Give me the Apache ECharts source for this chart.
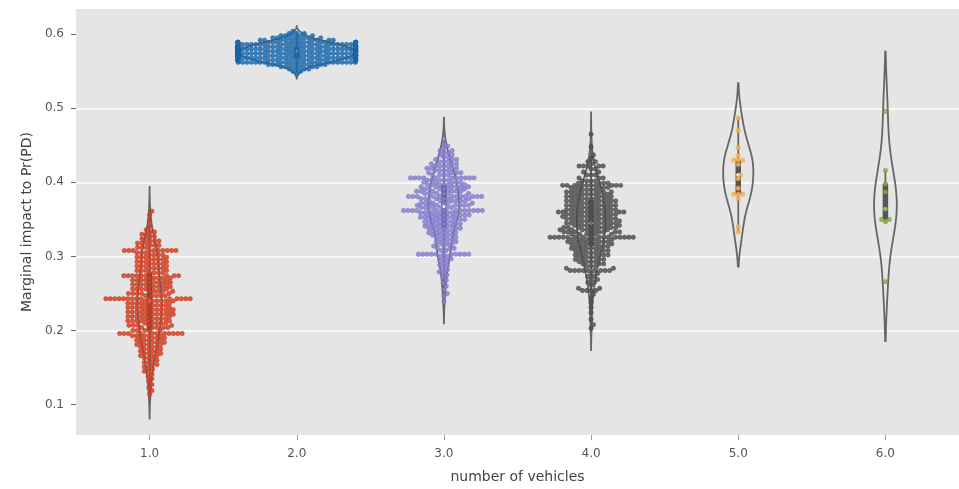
<!DOCTYPE html>
<html>
<head>
<meta charset="utf-8">
<script src="https://cdn.jsdelivr.net/npm/echarts@6/dist/echarts.min.js"></script>
<style>
  html, body { margin: 0; padding: 0; background: #fff; }
  #chart { width: 959px; height: 489px; }
</style>
</head>
<body>
<div id="chart"></div>
<script>
// categories
const vehicles = ['1.0', '2.0', '3.0', '4.0', '5.0', '6.0'];
const yTicks = [0.1, 0.2, 0.3, 0.4, 0.5, 0.6];

// swarm values: [value, number of points at that value]
const veh1 = [
  [0.361, 1], [0.356, 1], [0.348, 1], [0.340, 1], [0.336, 1], [0.333, 2], [0.330, 2], [0.327, 2],
  [0.324, 2], [0.321, 3], [0.318, 3], [0.315, 3], [0.312, 3], [0.308, 10], [0.305, 3], [0.302, 4],
  [0.299, 4], [0.296, 4], [0.293, 4], [0.290, 4], [0.287, 4], [0.284, 4], [0.281, 4], [0.278, 4],
  [0.274, 9], [0.271, 5], [0.268, 5], [0.265, 5], [0.262, 5], [0.259, 5], [0.256, 5], [0.253, 5],
  [0.250, 5], [0.247, 5], [0.243, 15], [0.240, 6], [0.237, 6], [0.234, 5], [0.231, 6], [0.228, 6],
  [0.225, 6], [0.222, 6], [0.219, 6], [0.216, 5], [0.213, 6], [0.210, 5], [0.207, 5], [0.204, 5],
  [0.200, 5], [0.196, 11], [0.193, 5], [0.190, 4], [0.187, 4], [0.184, 4], [0.181, 4], [0.178, 3],
  [0.175, 3], [0.172, 3], [0.169, 3], [0.166, 3], [0.163, 2], [0.160, 2], [0.157, 2], [0.154, 2],
  [0.151, 2], [0.148, 1], [0.145, 2], [0.141, 1], [0.138, 1], [0.135, 1], [0.131, 1], [0.127, 1],
  [0.123, 1], [0.119, 1], [0.114, 1]
];
const veh2 = [
  [0.604, 1], [0.601, 3], [0.598, 5], [0.595, 7], [0.592, 10], [0.589, 20], [0.586, 22], [0.583, 26],
  [0.580, 30], [0.577, 32], [0.574, 32], [0.571, 30], [0.568, 26], [0.565, 22], [0.562, 20],
  [0.559, 9], [0.556, 6], [0.553, 4], [0.550, 2], [0.547, 1]
];
const veh3 = [
  [0.458, 1], [0.452, 1], [0.449, 1], [0.446, 1], [0.443, 2], [0.440, 2], [0.437, 2], [0.434, 2],
  [0.431, 3], [0.428, 3], [0.425, 3], [0.422, 4], [0.419, 4], [0.416, 4], [0.413, 4], [0.410, 4],
  [0.406, 11], [0.403, 5], [0.400, 5], [0.397, 6], [0.394, 6], [0.391, 6], [0.388, 6], [0.385, 6],
  [0.381, 12], [0.378, 6], [0.375, 6], [0.372, 6], [0.369, 7], [0.366, 6], [0.362, 14], [0.359, 6],
  [0.356, 7], [0.353, 6], [0.350, 6], [0.347, 5], [0.344, 5], [0.341, 5], [0.338, 5], [0.335, 4],
  [0.332, 4], [0.329, 4], [0.326, 3], [0.323, 3], [0.320, 3], [0.317, 3], [0.314, 2], [0.311, 3],
  [0.308, 2], [0.303, 11], [0.300, 2], [0.297, 2], [0.294, 2], [0.291, 1], [0.288, 2], [0.285, 1],
  [0.282, 1], [0.279, 2], [0.275, 1], [0.272, 1], [0.268, 1], [0.264, 1], [0.260, 1], [0.255, 1],
  [0.250, 1], [0.246, 1], [0.239, 1]
];
const veh4 = [
  [0.465, 1], [0.448, 1], [0.437, 1], [0.432, 1], [0.428, 2], [0.425, 1], [0.422, 5], [0.418, 2],
  [0.414, 2], [0.410, 3], [0.406, 3], [0.402, 4], [0.399, 4], [0.396, 10], [0.393, 5], [0.390, 5],
  [0.387, 6], [0.384, 6], [0.381, 6], [0.378, 6], [0.375, 7], [0.372, 6], [0.369, 7], [0.366, 6],
  [0.363, 7], [0.360, 10], [0.357, 7], [0.354, 7], [0.351, 7], [0.348, 7], [0.345, 7], [0.342, 7],
  [0.339, 7], [0.336, 7], [0.333, 7], [0.330, 6], [0.326, 15], [0.323, 6], [0.320, 6], [0.317, 6],
  [0.314, 5], [0.311, 5], [0.308, 5], [0.305, 4], [0.302, 5], [0.299, 4], [0.296, 4], [0.293, 4],
  [0.290, 3], [0.287, 3], [0.284, 2], [0.281, 9], [0.277, 2], [0.273, 2], [0.269, 2], [0.265, 2],
  [0.261, 1], [0.257, 2], [0.254, 4], [0.249, 1], [0.244, 1], [0.238, 1], [0.231, 1], [0.224, 1],
  [0.215, 1], [0.208, 1], [0.203, 1]
];
const veh5 = [
  [0.333, 1], [0.340, 1], [0.378, 1], [0.384, 3], [0.392, 1], [0.405, 1], [0.410, 1], [0.424, 1],
  [0.430, 3], [0.436, 1], [0.447, 1], [0.470, 1], [0.487, 1]
];
const veh6 = [
  [0.266, 1], [0.347, 1], [0.350, 2], [0.364, 1], [0.387, 1], [0.398, 1], [0.416, 1], [0.496, 1]
];

const pointColors = ['#dc4120', '#1d6fb6', '#8b82d6', '#545454', '#fbb450', '#82b03c'];
const edgeColors = ['#b4321a', '#145a96', '#6f66bb', '#3a3a3a', '#e79a35', '#67922b'];
const lineGray = '#666666';

function expand(rows) {
  const out = [];
  rows.forEach(([v, n]) => { for (let k = 0; k < n; k++) out.push(v); });
  return out.sort((a, b) => a - b);
}

function quantile(s, q) {
  const pos = (s.length - 1) * q;
  const lo = Math.floor(pos);
  const hi = Math.min(lo + 1, s.length - 1);
  return s[lo] + (s[hi] - s[lo]) * (pos - lo);
}

// violin stats like seaborn: gaussian kde, scott bandwidth, cut = 2
function violinStats(s) {
  const n = s.length;
  const mean = s.reduce((a, b) => a + b, 0) / n;
  const sd = Math.sqrt(s.reduce((a, b) => a + (b - mean) * (b - mean), 0) / (n - 1));
  const bw = sd * Math.pow(n, -0.2);
  const lo = s[0] - 2 * bw;
  const hi = s[n - 1] + 2 * bw;
  const grid = [], dens = [];
  const steps = 120;
  for (let k = 0; k <= steps; k++) {
    const y = lo + (hi - lo) * k / steps;
    let d = 0;
    s.forEach((x) => { const z = (y - x) / bw; d += Math.exp(-0.5 * z * z); });
    grid.push(y);
    dens.push(d / (n * bw * Math.sqrt(2 * Math.PI)));
  }
  const q1 = quantile(s, 0.25), q3 = quantile(s, 0.75);
  const iqr = q3 - q1;
  const w1 = s.find((x) => x >= q1 - 1.5 * iqr);
  const w2 = [...s].reverse().find((x) => x <= q3 + 1.5 * iqr);
  return { grid, dens, q1, q3, med: quantile(s, 0.5), w1, w2 };
}

const samples = [veh1, veh2, veh3, veh4, veh5, veh6].map(expand);
const stats = samples.map(violinStats);
const maxDens = Math.max(...stats.map((st) => Math.max(...st.dens)));

function violinItem(i) {
  return function (params, api) {
    const st = stats[i];
    const half = 0.4 * api.size([1, 0])[0];
    const right = [], left = [];
    st.grid.forEach((v, k) => {
      const p = api.coord([i, v]);
      const w = st.dens[k] / maxDens * half;
      right.push([p[0] + w, p[1]]);
      left.unshift([p[0] - w, p[1]]);
    });
    const c = api.coord([i, st.med]);
    const x = c[0];
    return {
      type: 'group',
      children: [
        { type: 'polygon', shape: { points: right.concat(left) },
          style: { fill: 'none', stroke: lineGray, lineWidth: 1.8 } },
        { type: 'line', shape: { x1: x, y1: api.coord([i, st.w1])[1], x2: x, y2: api.coord([i, st.w2])[1] },
          style: { stroke: lineGray, lineWidth: 1.8 } },
        { type: 'line', shape: { x1: x, y1: api.coord([i, st.q1])[1], x2: x, y2: api.coord([i, st.q3])[1] },
          style: { stroke: '#555', lineWidth: 5.5 } },
        { type: 'circle', shape: { cx: x, cy: c[1], r: 2 }, style: { fill: '#fff' } }
      ]
    };
  };
}

// beeswarm placement in pixel space, with gutters at the violin width
function swarmItem(i) {
  return function (params, api) {
    const d = 4.4;
    const gutter = 0.4 * api.size([1, 0])[0];
    const cx = api.coord([i, samples[i][0]])[0];
    const placed = [];
    samples[i].forEach((v) => {
      const y = api.coord([i, v])[1];
      const neigh = placed.filter((q) => Math.abs(q.y - y) < d);
      const cands = [0];
      neigh.forEach((q) => {
        const dx = Math.sqrt(d * d - (q.y - y) * (q.y - y));
        cands.push(q.x + dx, q.x - dx);
      });
      const order = cands.map((c, k) => [c, k]).sort((a, b) => Math.abs(a[0]) - Math.abs(b[0]) || a[1] - b[1]);
      let x = 0;
      for (const [c] of order) {
        if (neigh.every((q) => (q.x - c) * (q.x - c) + (q.y - y) * (q.y - y) >= d * d - 1e-6)) { x = c; break; }
      }
      placed.push({ x, y });
    });
    return {
      type: 'group',
      children: placed.map((p) => ({
        type: 'circle',
        shape: { cx: cx + Math.max(-gutter, Math.min(gutter, p.x)), cy: p.y, r: 2.2 },
        style: { fill: pointColors[i], stroke: edgeColors[i], lineWidth: 0.5, opacity: 0.85 }
      }))
    };
  };
}

const series = [];
vehicles.forEach((name, i) => {
  series.push({ type: 'custom', renderItem: violinItem(i), data: [[i, stats[i].med]], z: 2, silent: true });
});
vehicles.forEach((name, i) => {
  series.push({ type: 'custom', renderItem: swarmItem(i), data: [[i, stats[i].med]], z: 3, silent: true });
});

const chart = echarts.init(document.getElementById('chart'));
chart.setOption({
  animation: false,
  grid: { left: 76, top: 9, width: 891, height: 428, show: true, backgroundColor: '#E5E5E5', borderWidth: 0 },
  xAxis: {
    type: 'category',
    data: vehicles,
    name: 'number of vehicles',
    nameLocation: 'middle',
    nameGap: 35,
    nameTextStyle: { fontFamily: 'DejaVu Sans', fontSize: 14, color: '#444' },
    axisLine: { show: false },
    axisTick: { show: true, alignWithLabel: true, length: 5, lineStyle: { color: '#999' } },
    axisLabel: { fontFamily: 'DejaVu Sans', fontSize: 12, color: '#555', margin: 13 },
    splitLine: { show: false }
  },
  yAxis: {
    type: 'value',
    min: 0.059,
    max: 0.634,
    name: 'Marginal impact to Pr(PD)',
    nameLocation: 'middle',
    nameGap: 36,
    nameTextStyle: { fontFamily: 'DejaVu Sans', fontSize: 14, color: '#444' },
    axisLine: { show: false },
    axisTick: { show: true, length: 5, customValues: yTicks, lineStyle: { color: '#666' } },
    axisLabel: { fontFamily: 'DejaVu Sans', fontSize: 12, color: '#555', margin: 12, customValues: yTicks,
      formatter: (v) => v.toFixed(1) },
    splitLine: { show: true, showMinLine: false, showMaxLine: false, lineStyle: { color: '#fff', width: 1.5 } }
  },
  series
});
</script>
</body>
</html>
